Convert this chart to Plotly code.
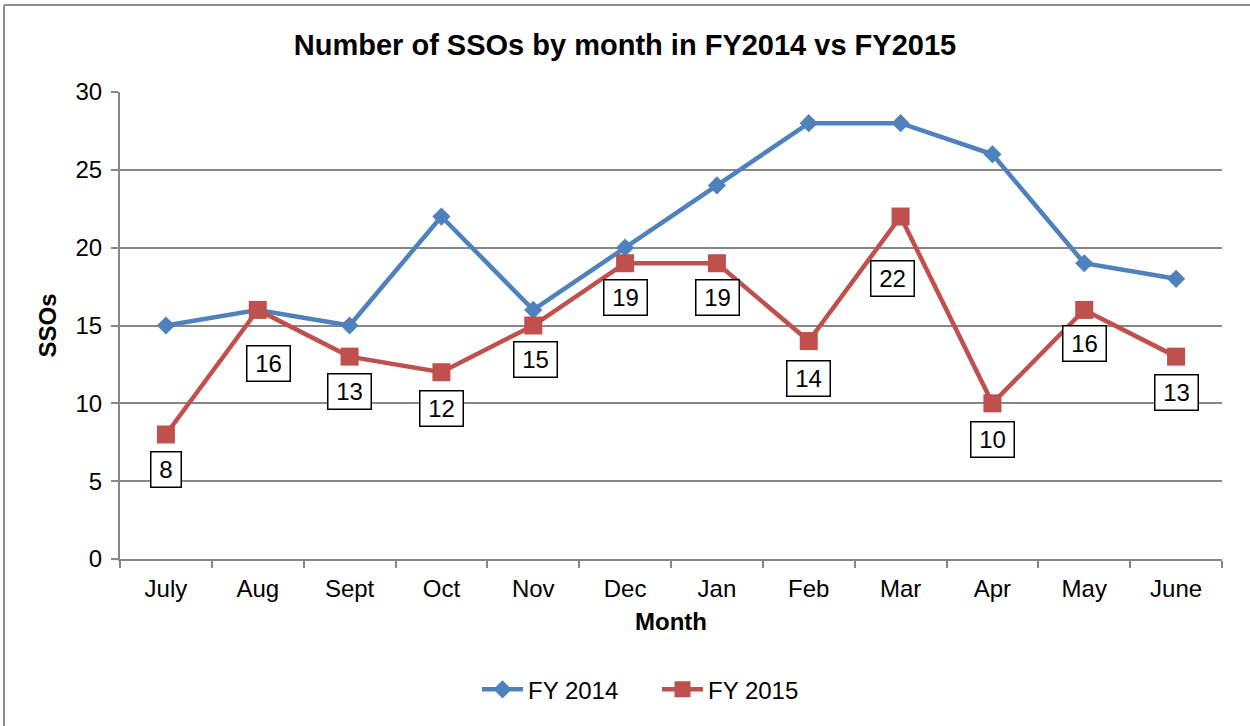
import plotly.graph_objects as go

months = ["July", "Aug", "Sept", "Oct", "Nov", "Dec", "Jan", "Feb", "Mar", "Apr", "May", "June"]
fy2014 = [15, 16, 15, 22, 16, 20, 24, 28, 28, 26, 19, 18]
fy2015 = [8, 16, 13, 12, 15, 19, 19, 14, 22, 10, 16, 13]

# pixel offsets of the FY2015 data-label boxes relative to their points
label_dy = [-35, -54, -35, -36, -34, -34, -34, -37, -62, -36, -34, -36]
label_dx = [0, 11, 0, 0, 2, 0, 1, 0, -8, 0, 0, 0]

FONT = "Liberation Sans, Arial, sans-serif"
BLUE = "#4F81BD"
RED = "#C0504D"
GRID = "#878787"

fig = go.Figure()
fig.add_trace(go.Scatter(
    x=months, y=fy2014, name="FY 2014", mode="lines+markers",
    line=dict(color=BLUE, width=4.5),
    marker=dict(symbol="diamond", size=14, color=BLUE),
))
fig.add_trace(go.Scatter(
    x=months, y=fy2015, name="FY 2015", mode="lines+markers",
    line=dict(color=RED, width=4.5),
    marker=dict(symbol="square", size=18, color=RED),
))

for m, v, dy, dx in zip(months, fy2015, label_dy, label_dx):
    txt = str(v)
    fig.add_annotation(
        x=m, y=v, text=txt, showarrow=False, yshift=dy, xshift=dx,
        font=dict(family=FONT, size=24, color="black"),
        width=int(13.4 * len(txt) + 12), height=30,
        bgcolor="white", bordercolor="black", borderwidth=1.5, borderpad=2,
    )

# chart frame (left and top edges visible)
fx = (4 - 120) / 1102
fy = (559 - 5) / 467
fig.add_shape(type="line", xref="paper", yref="paper",
              x0=fx, x1=1.2, y0=fy, y1=fy,
              line=dict(color="#8c8c8c", width=2))
fig.add_shape(type="line", xref="paper", yref="paper",
              x0=fx, x1=fx, y0=fy, y1=-0.6,
              line=dict(color="#8c8c8c", width=2))

fig.update_layout(
    width=1250, height=726,
    margin=dict(l=120, r=28, t=92, b=167),
    paper_bgcolor="white", plot_bgcolor="white",
    font=dict(family=FONT, size=24, color="black"),
    title=dict(text="<b>Number of SSOs by month in FY2014 vs FY2015</b>",
               x=0.5, xanchor="center", y=1 - 45 / 726, yanchor="middle",
               yref="container", font=dict(size=29, family=FONT)),
    showlegend=True,
    legend=dict(orientation="h", x=(477 - 120) / 1102, xanchor="left",
                y=-0.28, yanchor="middle",
                itemwidth=41,
                entrywidth=124, entrywidthmode="pixels",
                font=dict(size=24, family=FONT)),
    xaxis=dict(
        type="category", range=[-0.5, 11.5],
        showline=True, linecolor=GRID, linewidth=2,
        ticks="outside", ticklen=7, tickcolor=GRID, tickwidth=2,
        tickson="boundaries", showgrid=False, ticklabelstandoff=7,
        title=dict(text="<b>Month</b>", standoff=12, font=dict(size=24)),
        tickfont=dict(size=24),
    ),
    yaxis=dict(
        range=[0, 30], dtick=5, tick0=0,
        showline=True, linecolor=GRID, linewidth=2,
        ticks="outside", ticklen=7, tickcolor=GRID, tickwidth=2,
        showgrid=True, gridcolor=GRID, gridwidth=1.5,
        zeroline=False, ticklabelstandoff=4,
        title=dict(text="<b>SSOs</b>", standoff=12, font=dict(size=24)),
        tickfont=dict(size=24),
    ),
)

fig.write_html("out.html", config={"displayModeBar": False},
               post_script="document.body.style.margin='0';")
